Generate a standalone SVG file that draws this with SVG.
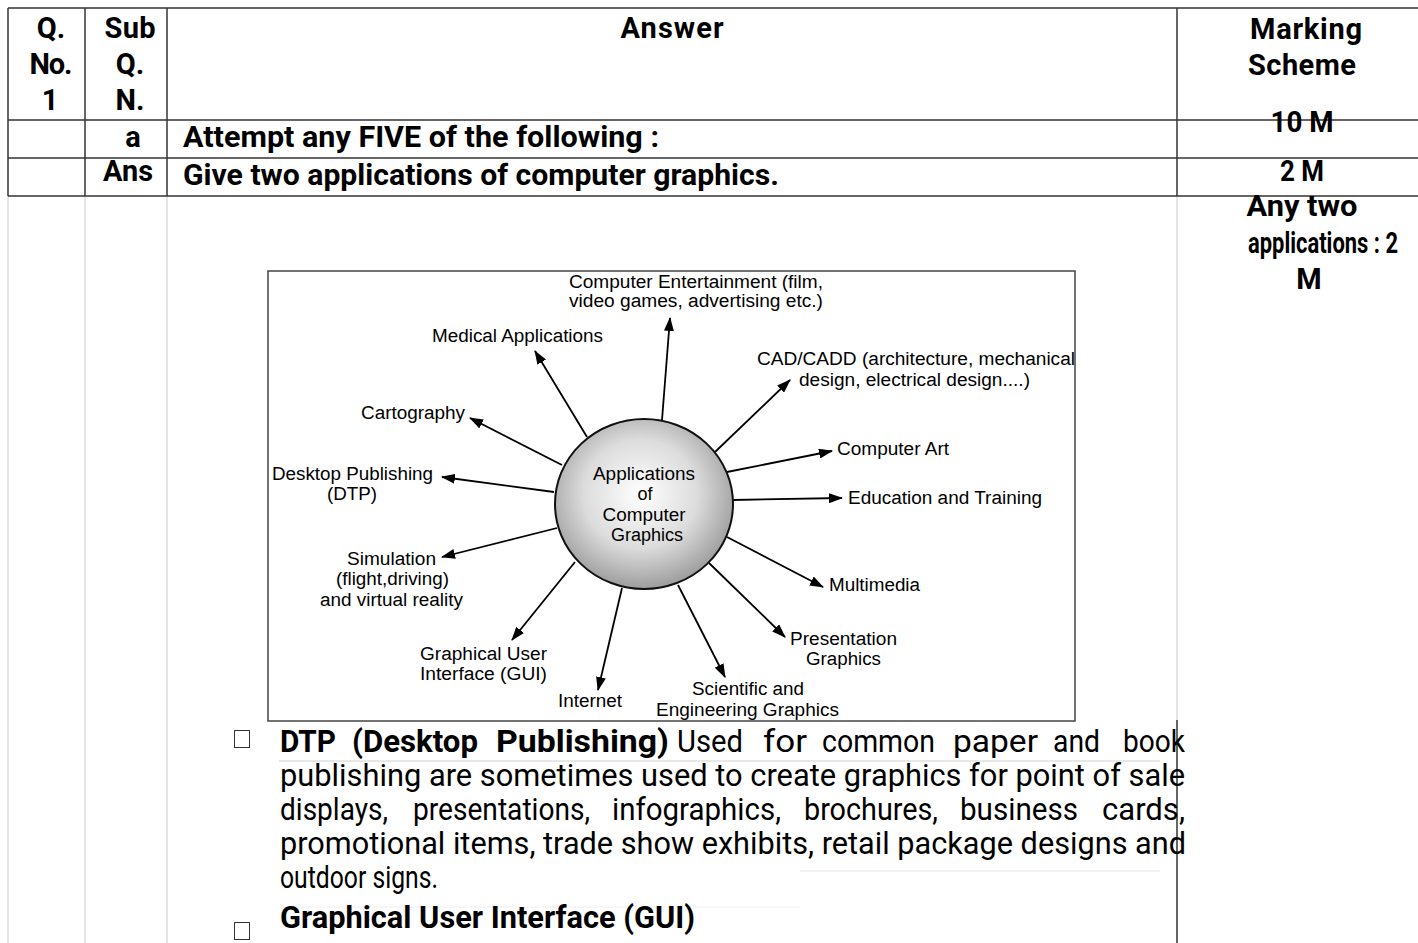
<svg xmlns="http://www.w3.org/2000/svg" width="1418" height="943" viewBox="0 0 1418 943">
<style>
.tb{font-family:Roboto,"Liberation Sans",sans-serif;font-weight:700;font-size:29px;fill:#000}
.bd{font-family:Roboto,"Liberation Sans",sans-serif;font-size:31px;fill:#000}
.bb{font-family:Roboto,"Liberation Sans",sans-serif;font-weight:700;font-size:31px;fill:#000}
.dg{font-family:"Liberation Sans",Arial,sans-serif;font-size:18px;fill:#000}
.grid{stroke:#333;stroke-width:1.5;fill:none}
.faint{stroke:#dcdcdc;stroke-width:1.5;fill:none}
.arr{stroke:#000;stroke-width:1.8;fill:none;marker-end:url(#ah)}
</style>
<defs>
<marker id="ah" viewBox="0 0 14 10" refX="13" refY="5" markerWidth="14" markerHeight="10" markerUnits="userSpaceOnUse" orient="auto">
<path d="M0,0 L14,5 L0,10 Z" fill="#000"/>
</marker>
<radialGradient id="sph" cx="0.48" cy="0.44" r="0.58">
<stop offset="0" stop-color="#ffffff"/>
<stop offset="0.55" stop-color="#dcdcdc"/>
<stop offset="1" stop-color="#989898"/>
</radialGradient>
</defs>
<rect width="1418" height="943" fill="#fff"/>

<g id="table">
<line class="faint" x1="8" y1="196" x2="8" y2="943"/>
<line class="faint" x1="85" y1="196" x2="85" y2="943"/>
<line class="faint" x1="167" y1="196" x2="167" y2="943"/>
<line class="faint" x1="1177" y1="196" x2="1177" y2="720"/>
<line class="grid" x1="1177" y1="720" x2="1177" y2="943"/>
<line class="grid" x1="8" y1="8" x2="1418" y2="8"/>
<line class="grid" x1="8" y1="120" x2="1418" y2="120"/>
<line class="grid" x1="8" y1="158" x2="1418" y2="158"/>
<line class="grid" x1="8" y1="196" x2="1418" y2="196"/>
<line class="grid" x1="8" y1="8" x2="8" y2="196"/>
<line class="grid" x1="85" y1="8" x2="85" y2="196"/>
<line class="grid" x1="167" y1="8" x2="167" y2="196"/>
<line class="grid" x1="1177" y1="8" x2="1177" y2="196"/>
<text class="tb" x="51" y="38" text-anchor="middle">Q.</text>
<text class="tb" x="51" y="74" text-anchor="middle" textLength="43">No.</text>
<text class="tb" x="50" y="110" text-anchor="middle">1</text>
<text class="tb" x="130" y="38" text-anchor="middle" textLength="51">Sub</text>
<text class="tb" x="130" y="74" text-anchor="middle">Q.</text>
<text class="tb" x="130" y="110" text-anchor="middle">N.</text>
<text class="tb" x="672" y="38" text-anchor="middle" textLength="103">Answer</text>
<text class="tb" x="1306" y="39" text-anchor="middle" textLength="112">Marking</text>
<text class="tb" x="1302" y="75" text-anchor="middle" textLength="108">Scheme</text>
<text class="tb" x="133" y="147" text-anchor="middle">a</text>
<text class="tb" x="183" y="147" textLength="476" lengthAdjust="spacingAndGlyphs">Attempt any FIVE of the following :</text>
<text class="tb" x="1302" y="132" text-anchor="middle" textLength="63" lengthAdjust="spacingAndGlyphs">10 M</text>
<text class="tb" x="128" y="181" text-anchor="middle" textLength="50" lengthAdjust="spacingAndGlyphs">Ans</text>
<text class="tb" x="183" y="185" textLength="596" lengthAdjust="spacingAndGlyphs">Give two applications of computer graphics.</text>
<text class="tb" x="1302" y="181" text-anchor="middle" textLength="44" lengthAdjust="spacingAndGlyphs">2 M</text>
<text class="tb" x="1302" y="216" text-anchor="middle" textLength="111" lengthAdjust="spacingAndGlyphs">Any two</text>
<text class="tb" x="1323" y="253" text-anchor="middle" textLength="150" lengthAdjust="spacingAndGlyphs">applications : 2</text>
<text class="tb" x="1309" y="289" text-anchor="middle">M</text>
</g>

<g id="figure-frame">
<rect x="268" y="271" width="807" height="450" fill="none" stroke="#444" stroke-width="1.5"/>
</g>

<g id="connectors">
<line class="arr" x1="662" y1="420" x2="670" y2="318"/>
<line class="arr" x1="587" y1="437" x2="535" y2="351"/>
<line class="arr" x1="562" y1="465" x2="470" y2="418"/>
<line class="arr" x1="554" y1="492" x2="442" y2="477"/>
<line class="arr" x1="557" y1="528" x2="442" y2="557"/>
<line class="arr" x1="575" y1="562" x2="512" y2="640"/>
<line class="arr" x1="622" y1="588" x2="598" y2="690"/>
<line class="arr" x1="678" y1="585" x2="725" y2="677"/>
<line class="arr" x1="709" y1="563" x2="785" y2="637"/>
<line class="arr" x1="727" y1="537" x2="823" y2="587"/>
<line class="arr" x1="733" y1="500" x2="842" y2="498"/>
<line class="arr" x1="727" y1="472" x2="832" y2="451"/>
<line class="arr" x1="715" y1="452" x2="790" y2="380"/>
</g>

<g id="center">
<ellipse cx="644" cy="504" rx="89" ry="85" fill="url(#sph)" stroke="#111" stroke-width="2"/>
<text class="dg" x="644" y="480" text-anchor="middle" textLength="102" lengthAdjust="spacingAndGlyphs">Applications</text>
<text class="dg" x="645" y="500" text-anchor="middle">of</text>
<text class="dg" x="644" y="521" text-anchor="middle" textLength="83" lengthAdjust="spacingAndGlyphs">Computer</text>
<text class="dg" x="647" y="541" text-anchor="middle" textLength="72" lengthAdjust="spacingAndGlyphs">Graphics</text>
</g>

<g id="n-entertainment">
<text class="dg" x="569" y="288" textLength="254" lengthAdjust="spacingAndGlyphs">Computer Entertainment (film,</text>
<text class="dg" x="569" y="307" textLength="254" lengthAdjust="spacingAndGlyphs">video games, advertising etc.)</text>
</g>
<g id="n-medical"><text class="dg" x="432" y="342" textLength="171" lengthAdjust="spacingAndGlyphs">Medical Applications</text></g>
<g id="n-cad">
<text class="dg" x="757" y="365" textLength="318" lengthAdjust="spacingAndGlyphs">CAD/CADD (architecture, mechanical</text>
<text class="dg" x="799" y="386" textLength="231" lengthAdjust="spacingAndGlyphs">design, electrical design....)</text>
</g>
<g id="n-cartography"><text class="dg" x="361" y="419" textLength="104" lengthAdjust="spacingAndGlyphs">Cartography</text></g>
<g id="n-art"><text class="dg" x="837" y="455" textLength="112" lengthAdjust="spacingAndGlyphs">Computer Art</text></g>
<g id="n-dtp">
<text class="dg" x="272" y="480" textLength="161" lengthAdjust="spacingAndGlyphs">Desktop Publishing</text>
<text class="dg" x="352" y="500" text-anchor="middle" textLength="50" lengthAdjust="spacingAndGlyphs">(DTP)</text>
</g>
<g id="n-education"><text class="dg" x="848" y="504" textLength="194" lengthAdjust="spacingAndGlyphs">Education and Training</text></g>
<g id="n-simulation">
<text class="dg" x="347" y="565" textLength="89" lengthAdjust="spacingAndGlyphs">Simulation</text>
<text class="dg" x="336" y="585" textLength="113" lengthAdjust="spacingAndGlyphs">(flight,driving)</text>
<text class="dg" x="320" y="606" textLength="143" lengthAdjust="spacingAndGlyphs">and virtual reality</text>
</g>
<g id="n-multimedia"><text class="dg" x="829" y="591" textLength="91" lengthAdjust="spacingAndGlyphs">Multimedia</text></g>
<g id="n-presentation">
<text class="dg" x="790" y="645" textLength="107" lengthAdjust="spacingAndGlyphs">Presentation</text>
<text class="dg" x="806" y="665" textLength="75" lengthAdjust="spacingAndGlyphs">Graphics</text>
</g>
<g id="n-gui">
<text class="dg" x="420" y="660" textLength="127" lengthAdjust="spacingAndGlyphs">Graphical User</text>
<text class="dg" x="420" y="680" textLength="127" lengthAdjust="spacingAndGlyphs">Interface (GUI)</text>
</g>
<g id="n-scientific">
<text class="dg" x="692" y="695" textLength="112" lengthAdjust="spacingAndGlyphs">Scientific and</text>
<text class="dg" x="656" y="716" textLength="183" lengthAdjust="spacingAndGlyphs">Engineering Graphics</text>
</g>
<g id="n-internet"><text class="dg" x="558" y="707" textLength="64" lengthAdjust="spacingAndGlyphs">Internet</text></g>

<g id="body-text">
<line x1="279" y1="761" x2="1160" y2="761" stroke="#d0d0d0" stroke-width="1.2"/>
<line x1="800" y1="871" x2="1160" y2="871" stroke="#e6e6e6" stroke-width="1.2"/>
<line x1="279" y1="907" x2="800" y2="907" stroke="#f0f0f0" stroke-width="1.2"/>
<rect x="234.5" y="730.5" width="15" height="17" fill="none" stroke="#333" stroke-width="1"/>
<rect x="234.5" y="922.5" width="15" height="17" fill="none" stroke="#333" stroke-width="1"/>
<text class="bb" x="280" y="752" textLength="56" lengthAdjust="spacingAndGlyphs">DTP</text>
<text class="bb" x="352" y="752" textLength="126" lengthAdjust="spacingAndGlyphs">(Desktop</text>
<text class="bb" x="496" y="752" textLength="173" lengthAdjust="spacingAndGlyphs">Publishing)</text>
<text class="bd" x="677" y="752" textLength="66" lengthAdjust="spacingAndGlyphs">Used</text>
<text class="bd" x="763" y="752" textLength="44" lengthAdjust="spacingAndGlyphs">for</text>
<text class="bd" x="822" y="752" textLength="113" lengthAdjust="spacingAndGlyphs">common</text>
<text class="bd" x="953" y="752" textLength="85" lengthAdjust="spacingAndGlyphs">paper</text>
<text class="bd" x="1053" y="752" textLength="47" lengthAdjust="spacingAndGlyphs">and</text>
<text class="bd" x="1123" y="752" textLength="62" lengthAdjust="spacingAndGlyphs">book</text>
<text class="bd" x="280" y="786" textLength="905" lengthAdjust="spacingAndGlyphs">publishing are sometimes used to create graphics for point of sale</text>
<text class="bd" x="280" y="820" textLength="108" lengthAdjust="spacingAndGlyphs">displays,</text>
<text class="bd" x="413" y="820" textLength="177" lengthAdjust="spacingAndGlyphs">presentations,</text>
<text class="bd" x="612" y="820" textLength="169" lengthAdjust="spacingAndGlyphs">infographics,</text>
<text class="bd" x="804" y="820" textLength="134" lengthAdjust="spacingAndGlyphs">brochures,</text>
<text class="bd" x="960" y="820" textLength="118" lengthAdjust="spacingAndGlyphs">business</text>
<text class="bd" x="1102" y="820" textLength="83" lengthAdjust="spacingAndGlyphs">cards,</text>
<text class="bd" x="280" y="854" textLength="906" lengthAdjust="spacingAndGlyphs">promotional items, trade show exhibits, retail package designs and</text>
<text class="bd" x="280" y="888" textLength="158" lengthAdjust="spacingAndGlyphs">outdoor signs.</text>
<text class="bb" x="280" y="928" textLength="415" lengthAdjust="spacingAndGlyphs">Graphical User Interface (GUI)</text>
</g>
</svg>
